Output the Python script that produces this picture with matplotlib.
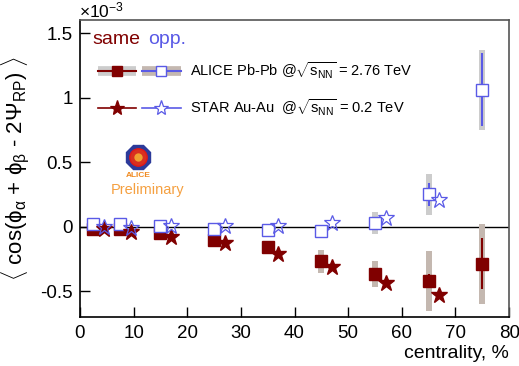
import matplotlib.pyplot as plt
from matplotlib.lines import Line2D
import numpy as np

plt.rcParams['font.family'] = ['Liberation Sans', 'DejaVu Sans']
plt.rcParams['mathtext.fontset'] = 'custom'
plt.rcParams['mathtext.rm'] = 'Liberation Sans'
plt.rcParams['mathtext.it'] = 'Liberation Sans'

# ALICE Pb-Pb, values in units of 1e-3
alice_x = [2.5, 7.5, 15, 25, 35, 45, 55, 65, 75]
alice_same = [-0.015, -0.02, -0.05, -0.10, -0.16, -0.27, -0.37, -0.42, -0.286]
alice_same_stat = [0.01, 0.01, 0.01, 0.015, 0.02, 0.03, 0.03, 0.05, 0.197]
alice_same_sys = [0.01, 0.01, 0.02, 0.03, 0.04, 0.09, 0.10, 0.23, 0.31]
alice_opp = [0.02, 0.02, 0.007, -0.015, -0.025, -0.036, 0.03, 0.25, 1.062]
alice_opp_stat = [0.01, 0.01, 0.01, 0.015, 0.02, 0.03, 0.03, 0.09, 0.28]
alice_opp_sys = [0.01, 0.01, 0.02, 0.02, 0.03, 0.03, 0.085, 0.16, 0.31]

# STAR Au-Au
star_x = [4.5, 9.5, 17, 27, 37, 47, 57, 67]
star_same = [-0.02, -0.04, -0.08, -0.13, -0.21, -0.31, -0.44, -0.53]
star_opp = [-0.005, -0.01, 0.002, 0.002, 0.002, 0.03, 0.07, 0.21]

red = '#800000'
blue = '#5a5ae6'
sys_same = '#c4b8b0'
sys_opp = '#cccccc'

fig = plt.figure(figsize=(5.19, 3.66), dpi=100)
ax = fig.add_axes([0.154, 0.134, 0.827, 0.811])

ax.axhline(0, color='black', lw=1, zorder=1)

# systematic bands
ax.bar(alice_x, 2 * np.array(alice_same_sys), bottom=np.array(alice_same) - np.array(alice_same_sys),
       width=1.15, color=sys_same, zorder=2)
ax.bar(alice_x, 2 * np.array(alice_opp_sys), bottom=np.array(alice_opp) - np.array(alice_opp_sys),
       width=1.15, color=sys_opp, zorder=2)

ax.errorbar(alice_x, alice_same, yerr=alice_same_stat, fmt='s', color=red, ms=8,
            elinewidth=1.5, capsize=0, zorder=4)
ax.errorbar(alice_x, alice_opp, yerr=alice_opp_stat, fmt='s', color=blue, mfc='white',
            ms=8, mew=1, elinewidth=1.5, capsize=0, zorder=4)
ax.plot(star_x, star_same, '*', color=red, ms=12, zorder=5)
ax.plot(star_x, star_opp, '*', color=blue, mfc='none', ms=12, mew=0.9, zorder=5)

ax.set_xlim(0, 80)
ax.set_ylim(-0.7, 1.6)
ax.set_xticks(np.arange(0, 81, 10))
ax.set_yticks([-0.5, 0, 0.5, 1, 1.5])
ax.set_yticklabels(['-0.5', '0', '0.5', '1', '1.5'])
ax.tick_params(direction='in', length=7, width=1, labelsize=13.5, pad=5)
ax.tick_params(axis='x', pad=6)
for s in ['top', 'right']:
    ax.spines[s].set_color('#555555')
for s in ax.spines.values():
    s.set_linewidth(1.2)

ax.set_xlabel('centrality, %', fontsize=14, loc='right', labelpad=2)
ax.set_ylabel(r'$\langle$ cos($\phi_{\alpha}$ + $\phi_{\beta}$ - 2$\Psi_{\rm RP}$) $\rangle$',
              fontsize=16, labelpad=6)
fig.text(0.152, 1 - 17 / 366, r'$\times$10$^{-3}$', fontsize=12.5, ha='left', va='baseline')

# legend header
tr = ax.transAxes
ax.text(0.03, 0.935, 'same', color=red, fontsize=14, transform=tr, va='center')
ax.text(0.158, 0.935, 'opp.', color=blue, fontsize=14, transform=tr, va='center')

rows = [0.83, 0.705]
for xc, col, sysc, mfc in [(0.086, red, sys_opp, red), (0.19, blue, sys_same, 'white')]:
    ax.add_line(Line2D([xc - 0.045, xc + 0.045], [rows[0], rows[0]], transform=tr,
                       color=sysc, lw=7, solid_capstyle='butt', zorder=6))
    ax.add_line(Line2D([xc - 0.045, xc + 0.045], [rows[0], rows[0]], transform=tr,
                       color=col, lw=1.5, zorder=7))
    ax.add_line(Line2D([xc], [rows[0]], transform=tr, marker='s', color=col, mfc=mfc,
                       ms=7.5, zorder=8))
    ax.add_line(Line2D([xc - 0.045, xc + 0.045], [rows[1], rows[1]], transform=tr,
                       color=col, lw=1.2, zorder=7))
    ax.add_line(Line2D([xc], [rows[1]], transform=tr, marker='*', color=col,
                       mfc=mfc, ms=11, mew=0.9, zorder=8))
ax.text(0.256, rows[0], r'ALICE Pb-Pb @$\sqrt{s_{\rm NN}}$ = 2.76 TeV', fontsize=10.5,
        transform=tr, va='center')
ax.text(0.256, rows[1], r'STAR Au-Au  @$\sqrt{s_{\rm NN}}$ = 0.2 TeV', fontsize=10.5,
        transform=tr, va='center')

# ALICE preliminary logo
ax.add_line(Line2D([0.136], [0.54], transform=tr, marker='8', ms=18, color='#2c3a9a', zorder=6))
ax.add_line(Line2D([0.136], [0.54], transform=tr, marker='o', ms=12.5, color='#d83020',
                   mec='#e01818', zorder=7))
ax.add_line(Line2D([0.136], [0.54], transform=tr, marker='o', ms=6, color='#f0a030',
                   mec='none', zorder=8))
ax.text(0.136, 0.476, 'ALICE', color='#f08a20', fontsize=6, fontweight='bold',
        transform=tr, ha='center', va='center')
ax.text(0.158, 0.428, 'Preliminary', color='#f5a040', fontsize=10.5, transform=tr,
        ha='center', va='center')

fig.savefig('out.png', dpi=100)
